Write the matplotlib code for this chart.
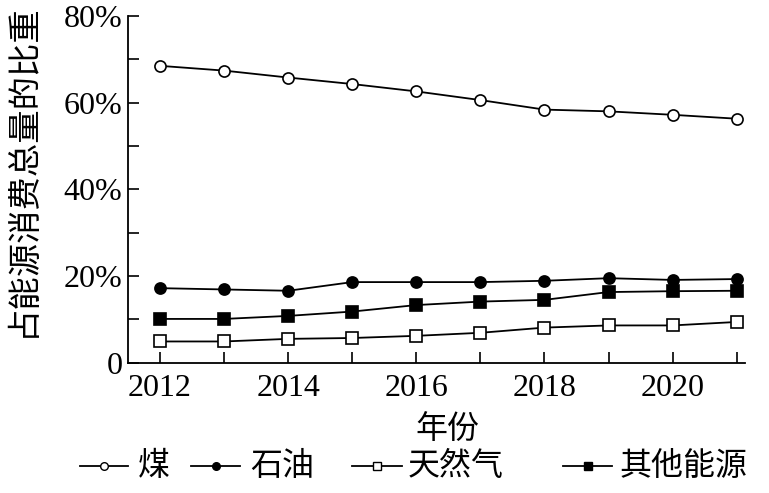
import matplotlib
matplotlib.use("Agg")
import matplotlib.pyplot as plt
from matplotlib.ticker import MultipleLocator, FuncFormatter
from matplotlib.lines import Line2D

years = [2012, 2013, 2014, 2015, 2016, 2017, 2018, 2019, 2020, 2021]
coal = [68.5, 67.4, 65.8, 64.3, 62.6, 60.6, 58.4, 58.0, 57.2, 56.3]
oil = [17.2, 16.9, 16.6, 18.6, 18.6, 18.6, 18.9, 19.5, 19.1, 19.3]
gas = [4.9, 4.9, 5.5, 5.7, 6.2, 6.9, 8.1, 8.6, 8.6, 9.4]
other = [10.1, 10.1, 10.8, 11.8, 13.3, 14.1, 14.5, 16.3, 16.5, 16.6]
labels = ["煤", "石油", "天然气", "其他能源"]
xticks = [2012, 2014, 2016, 2018, 2020]
yticks = [0, 20, 40, 60, 80]

serif = ["Liberation Serif", "DejaVu Serif"]
cjk = ["Noto Sans CJK SC", "DejaVu Sans"]

W, H = 769, 493
fig = plt.figure(figsize=(W / 100, H / 100), dpi=100)
ax = fig.add_axes([128 / W, 1 - 362.7 / H, 617 / W, 346.7 / H])

lw = 1.3
ms = 8
styles = [
    dict(marker="o", mfc="white"),
    dict(marker="o", mfc="black"),
    dict(marker="s", mfc="white"),
    dict(marker="s", mfc="black"),
]
series = [coal, oil, gas, other]
for vals, st in zip(series, styles):
    ax.plot(years, vals, color="black", lw=lw, ms=ms, mec="black", mew=1.2, **st)

ax.set_xlim(2011.5, 2021.13)
ax.set_ylim(0, 80)
ax.spines["top"].set_visible(False)
ax.spines["right"].set_visible(False)
for s in ["left", "bottom"]:
    ax.spines[s].set_linewidth(1.3)

ax.set_xticks(xticks)
ax.xaxis.set_minor_locator(MultipleLocator(1))
ax.set_yticks(yticks)
ax.yaxis.set_minor_locator(MultipleLocator(10))
ax.yaxis.set_major_formatter(FuncFormatter(lambda v, p: "0" if v == 0 else f"{int(v)}%"))
ax.tick_params(which="both", direction="in", width=1.2, length=8, labelsize=23)
ax.tick_params(axis="x", pad=8)
ax.tick_params(axis="y", pad=4)
for lab in ax.get_xticklabels() + ax.get_yticklabels():
    lab.set_family(serif)

fig.text(447 / W, 1 - 430 / H, "年份", fontsize=23, family=cjk, ha="center", va="center")
fig.text(22 / W, 1 - 170 / H, "占能源消费总量的比重", fontsize=24, family=cjk,
         ha="center", va="center", rotation=90)

# legend drawn manually
line_x = [(80, 128), (191, 240), (352, 402), (563, 612)]
text_x = [138, 250, 408, 620]
ly = 1 - 466 / H
for (x0, x1), tx, lab, st in zip(line_x, text_x, labels, styles):
    fig.add_artist(Line2D([x0 / W, x1 / W], [ly, ly], color="black", lw=lw))
    fig.add_artist(Line2D([(x0 + x1) / 2 / W], [ly], color="black", ms=5.5, mec="black",
                          mew=1.0, **st))
    fig.text(tx / W, ly, lab, fontsize=23, family=cjk, ha="left", va="center")

fig.savefig("out.png", dpi=100)
